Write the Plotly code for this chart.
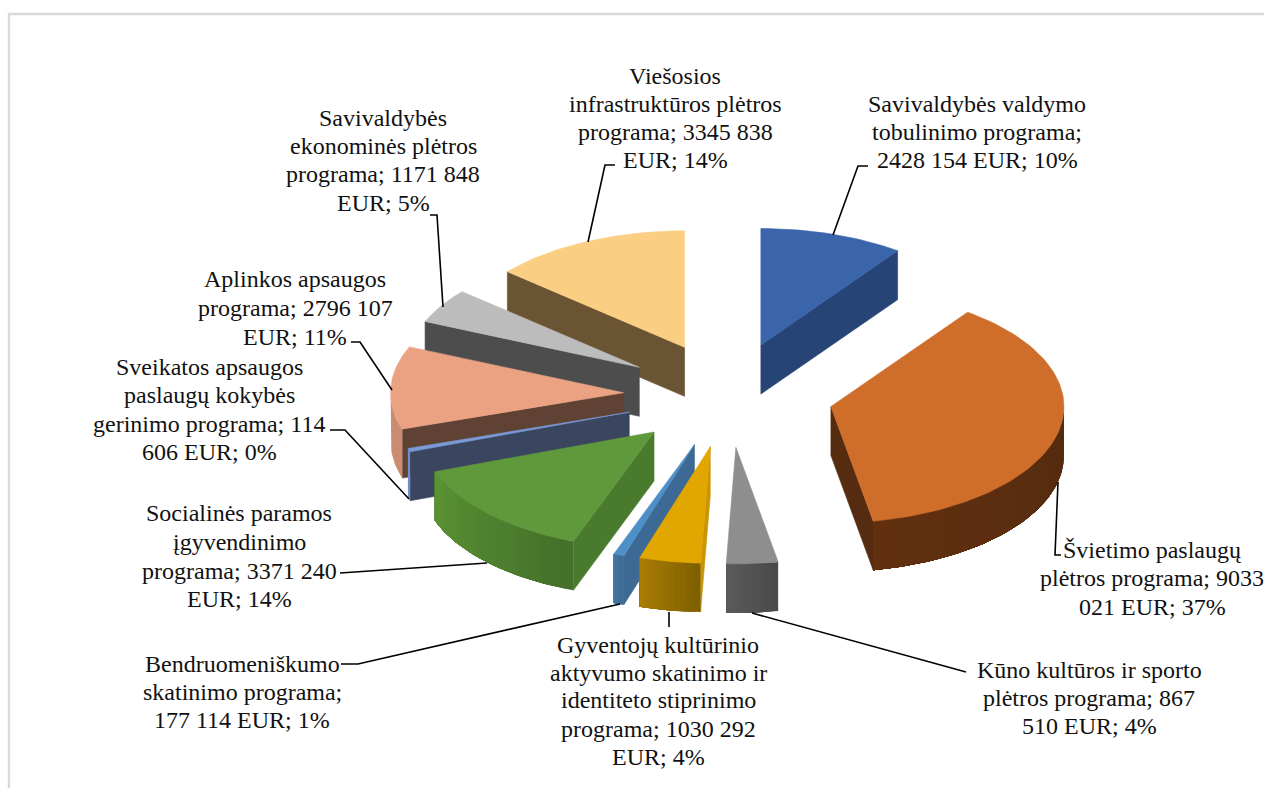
import math
import plotly.graph_objects as go

# ---------- data ----------
categories = ["Savivaldybės valdymo tobulinimo programa", "Švietimo paslaugų plėtros programa",
              "Kūno kultūros ir sporto plėtros programa",
              "Gyventojų kultūrinio aktyvumo skatinimo ir identiteto stiprinimo programa",
              "Bendruomeniškumo skatinimo programa", "Socialinės paramos įgyvendinimo programa",
              "Sveikatos apsaugos paslaugų kokybės gerinimo programa", "Aplinkos apsaugos programa",
              "Savivaldybės ekonominės plėtros programa", "Viešosios infrastruktūros plėtros programa"]
values = [2428154, 9033021, 867510, 1030292, 177114, 3371240, 114606, 2796107, 1171848, 3345838]

top_colors = ["#3a65aa", "#cf6d2a", "#8e8e8e", "#e2a600", "#4f8fc8", "#5f993b", "#7a9bd6", "#eaa283", "#bcbcbc", "#fbcf83"]
radial_colors = ["#264475", "#552c10", "#555555", "#c99500", "#3c6a94", "#4a7a2e", "#3a4560", "#5f4233", "#4d4d4d", "#6a5433"]
outer_colors = [("#264475", "#264475"), ("#532b0f", "#62300f"), ("#4a4a4a", "#5a5a5a"), ("#7f6000", "#a87c05"),
                ("#3c6a94", "#44759f"), ("#44702a", "#5a9234"), ("#6f8fcf", "#6f8fcf"), ("#cc8c72", "#cc8c72"),
                ("#4d4d4d", "#4d4d4d"), ("#6a5433", "#6a5433")]

label_lines = [
    (977, [(104, "Savivaldybės valdymo"), (132, "tobulinimo programa;"), (160, "2428 154 EUR; 10%")]),
    (1152, [(550, "Švietimo paslaugų"), (578, "plėtros programa; 9033"), (607, "021 EUR; 37%")]),
    (1089, [(670, "Kūno kultūros ir sporto"), (698, "plėtros programa; 867"), (726, "510 EUR; 4%")]),
    (658, [(645, "Gyventojų kultūrinio"), (673, "aktyvumo skatinimo ir"), (700, "identiteto stiprinimo"),
           (729, "programa; 1030 292"), (757, "EUR; 4%")]),
    (242, [(664, "Bendruomeniškumo"), (692, "skatinimo programa;"), (720, "177 114 EUR; 1%")]),
    (239, [(513, "Socialinės paramos"), (542, "įgyvendinimo"), (571, "programa; 3371 240"), (599, "EUR; 14%")]),
    (209, [(367, "Sveikatos apsaugos"), (395, "paslaugų kokybės"), (424, "gerinimo programa; 114"), (452, "606 EUR; 0%")]),
    (295, [(279, "Aplinkos apsaugos"), (308, "programa; 2796 107"), (337, "EUR; 11%")]),
    (383, [(118, "Savivaldybės"), (146, "ekonominės plėtros"), (174, "programa; 1171 848"), (203, "EUR; 5%")]),
    (675, [(76, "Viešosios"), (104, "infrastruktūros plėtros"), (132, "programa; 3345 838"), (160, "EUR; 14%")]),
]
leaders = [
    [(833, 235), (858, 166), (868, 166)],
    [(1058, 482), (1055, 555), (1061, 555)],
    [(752, 613), (962, 671), (966, 672)],
    [(669, 612), (669, 627)],
    [(620, 604), (358, 664), (341, 664)],
    [(487, 563), (340, 573)],
    [(409, 499), (345, 430), (330, 430)],
    [(392, 390), (360, 342), (351, 342)],
    [(443, 307), (437, 215), (430, 215)],
    [(588, 242), (605, 165), (615, 165)],
]

# ---------- pie geometry ----------
CX, CY = 728.5, 395
EXPLODE = 105
RADIUS = 233
SQUASH = 0.5
DEPTH = 49
total = sum(values)

def rgb(hexcol):
    return [int(hexcol[i:i + 2], 16) for i in (1, 3, 5)]

def mix(c1, c2, t):
    a, b = rgb(c1), rgb(c2)
    return "rgb(%d,%d,%d)" % tuple(round(a[i] + (b[i] - a[i]) * t) for i in range(3))

fig = go.Figure()

def poly(xs, ys, color, edge=0.6):
    fig.add_trace(go.Scatter(x=xs, y=ys, mode="lines", fill="toself", fillcolor=color,
                             line=dict(color=color, width=edge), hoverinfo="skip", showlegend=False))

slices = []
cum = 0
for i, v in enumerate(values):
    a1 = cum / total * 2 * math.pi
    cum += v
    a2 = cum / total * 2 * math.pi
    mid = (a1 + a2) / 2
    ax = CX + EXPLODE * math.sin(mid)
    ay = CY - EXPLODE * SQUASH * math.cos(mid)
    slices.append((ay, i, a1, a2, ax))

for ay, i, a1, a2, ax in sorted(slices):
    def pt(a):
        return ax + RADIUS * math.sin(a), ay - RADIUS * SQUASH * math.cos(a)
    p1, p2 = pt(a1), pt(a2)
    # radial side walls facing the viewer
    if math.sin(a1) < 0:
        poly([ax, p1[0], p1[0], ax, ax], [ay, p1[1], p1[1] + DEPTH, ay + DEPTH, ay], radial_colors[i])
    if math.sin(a2) > 0:
        poly([ax, p2[0], p2[0], ax, ax], [ay, p2[1], p2[1] + DEPTH, ay + DEPTH, ay], radial_colors[i])
    # outer curved wall: each shade band runs to the far end and the next overlays it, so no seams show
    lo, hi = max(a1, math.pi / 2), min(a2, 3 * math.pi / 2)
    if hi > lo:
        n = 1 if outer_colors[i][0] == outer_colors[i][1] else max(12, int((hi - lo) / math.radians(2)))
        for k in range(n):
            s1 = lo + (hi - lo) * k / n
            steps = max(2, int((hi - s1) / math.radians(1.5)))
            arc = [pt(s1 + (hi - s1) * j / steps) for j in range(steps + 1)]
            xs = [p[0] for p in arc] + [p[0] for p in reversed(arc)] + [arc[0][0]]
            ys = [p[1] for p in arc] + [p[1] + DEPTH for p in reversed(arc)] + [arc[0][1]]
            poly(xs, ys, mix(*outer_colors[i], k / max(1, n - 1)), edge=0)
    # top face
    m = max(2, int((a2 - a1) / math.radians(1.5)))
    arc = [pt(a1 + (a2 - a1) * k / m) for k in range(m + 1)]
    poly([ax] + [p[0] for p in arc] + [ax], [ay] + [p[1] for p in arc] + [ay], top_colors[i])

for seg in leaders:
    fig.add_trace(go.Scatter(x=[p[0] for p in seg], y=[p[1] for p in seg], mode="lines",
                             line=dict(color="black", width=1.6), hoverinfo="skip", showlegend=False))

annotations = []
for cx, lines in label_lines:
    for y, text in lines:
        annotations.append(dict(x=cx, y=y, xref="x", yref="y", text=text, showarrow=False,
                                xanchor="center", yanchor="middle",
                                font=dict(family="Liberation Serif", size=24, color="#111111")))

fig.update_layout(
    width=1264, height=788, margin=dict(l=0, r=0, t=0, b=0),
    paper_bgcolor="white", plot_bgcolor="white",
    xaxis=dict(range=[0, 1264], visible=False, fixedrange=True),
    yaxis=dict(range=[788, 0], visible=False, fixedrange=True),
    annotations=annotations,
    shapes=[dict(type="rect", xref="x", yref="y", x0=9, y0=14, x1=1400, y1=1000,
                 line=dict(color="#d9d9d9", width=2.4), layer="below")],
)
fig.write_html("out.html", config={"displayModeBar": False},
               post_script="document.body.style.margin='0';document.body.style.overflow='hidden';")
